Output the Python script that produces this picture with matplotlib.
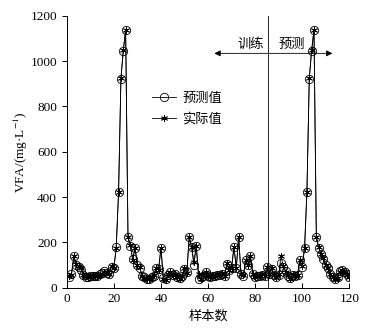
import numpy as np
import matplotlib
matplotlib.use('Agg')
import matplotlib.pyplot as plt

plt.rcParams['font.family'] = ['Liberation Serif', 'Noto Sans CJK SC']
plt.rcParams['font.size'] = 9.5
plt.rcParams['mathtext.fontset'] = 'stix'
plt.rcParams['axes.unicode_minus'] = False

# sample index 1..120
sample = np.arange(1, 121)

actual = [50, 58, 140, 105, 95, 85, 55, 50, 45, 48,
          55, 50, 52, 58, 62, 70, 68, 60, 95, 85,
          176, 423, 924, 1048, 1138, 225, 188, 122, 176, 100,
          90, 50, 42, 38, 40, 45, 55, 88, 80, 176,
          40, 35, 60, 70, 55, 62, 45, 40, 50, 85,
          65, 225, 181, 115, 185, 60, 40, 55, 70, 50,
          45, 55, 50, 60, 55, 65, 50, 107, 80, 85,
          181, 85, 225, 60, 55, 122, 100, 141, 60, 45,
          55, 50, 60, 50, 93, 60, 85, 55, 45, 60,
          140, 95, 70, 55, 40, 60, 50, 55, 122, 95,
          176, 423, 924, 1048, 1138, 225, 178, 150, 130, 100,
          85, 60, 45, 38, 42, 70, 80, 65, 60, 45]

predicted = [48, 60, 138, 100, 92, 80, 58, 48, 47, 50,
             52, 53, 50, 60, 65, 72, 64, 62, 92, 88,
             178, 420, 922, 1046, 1136, 222, 185, 125, 174, 98,
             88, 52, 45, 40, 38, 48, 52, 85, 82, 174,
             42, 38, 58, 68, 58, 60, 48, 42, 52, 82,
             68, 222, 178, 100, 182, 40, 45, 52, 68, 52,
             48, 52, 53, 58, 57, 62, 52, 105, 78, 88,
             178, 88, 222, 62, 52, 120, 98, 138, 62, 48,
             52, 53, 58, 52, 90, 62, 82, 58, 48, 58,
             110, 92, 72, 52, 42, 58, 52, 58, 120, 92,
             174, 420, 922, 1046, 1136, 222, 175, 148, 128, 98,
             88, 62, 48, 40, 45, 72, 78, 68, 62, 48]

split_at = 85.5

fig = plt.figure(figsize=(3.71, 3.28), dpi=100)
ax = fig.add_axes([0.18, 0.123, 0.7615, 0.829])

ax.plot(sample, predicted, color='k', lw=0.6, marker='o', ms=6,
        mfc='none', mec='k', mew=0.6, label='预测值')
ax.plot(sample, actual, color='k', lw=0.6, marker=(6, 2, 0), ms=5,
        mec='k', mew=0.6, label='实际值')

ax.axvline(split_at, color='k', lw=0.6)
ax.annotate('', xy=(61.5, 1034), xytext=(114, 1034),
            arrowprops=dict(arrowstyle='<|-|>', color='k', lw=0.6,
                            mutation_scale=9))
ax.text(78, 1045, '训练', ha='center', va='bottom')
ax.text(95.5, 1045, '预测', ha='center', va='bottom')

ax.set_xlim(0, 120)
ax.set_ylim(0, 1200)
ax.set_xticks(range(0, 121, 20))
ax.set_yticks(range(0, 1201, 200))
ax.spines['top'].set_visible(False)
ax.spines['right'].set_visible(False)
for s in ax.spines.values():
    s.set_linewidth(0.7)
ax.tick_params(axis='x', direction='in', length=3.5, width=0.7)
ax.tick_params(axis='y', direction='out', length=3.5, width=0.7)

ax.set_xlabel('样本数')
ax.set_ylabel('VFA/(mg·L$^{-1}$)', labelpad=0)

ax.legend(loc='upper left', bbox_to_anchor=(0.26, 0.76), frameon=False,
          handlelength=1.8, handletextpad=0.5, labelspacing=0.6)

fig.savefig('out.png', dpi=100)
